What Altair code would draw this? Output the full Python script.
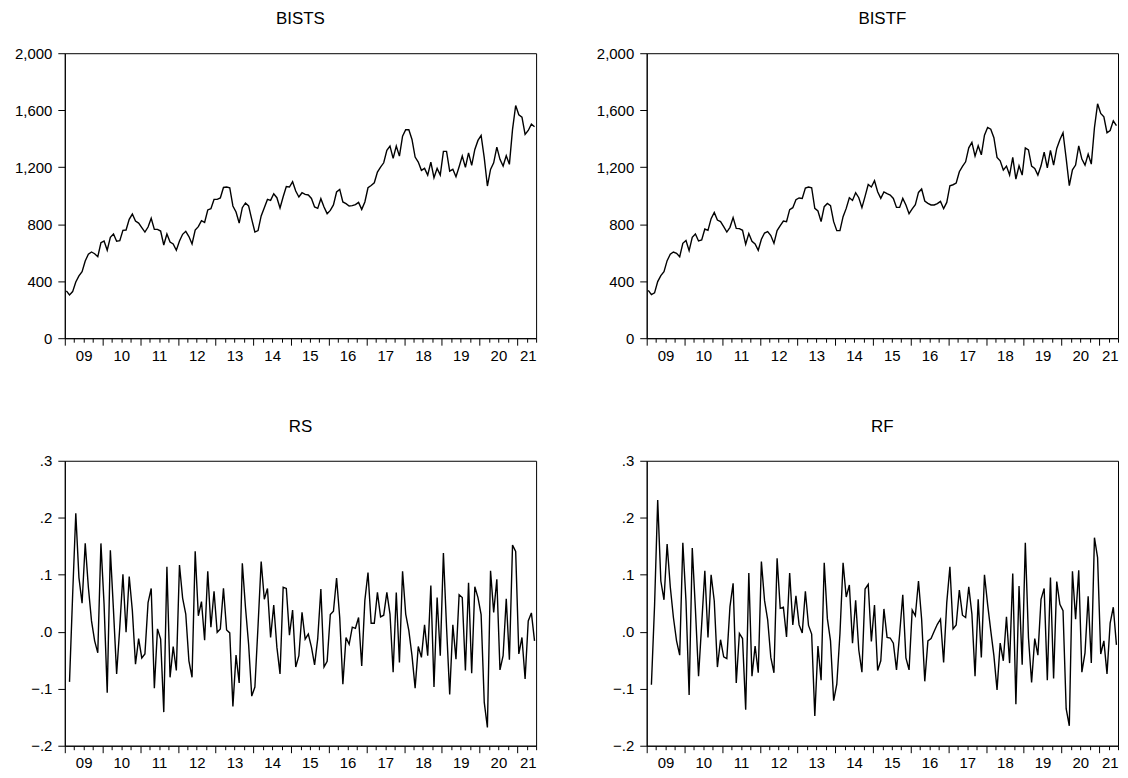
import altair as alt
import pandas as pd
import numpy as np

# ---------------- data (monthly, Jan 2009 - Jun 2021) ----------------
START_YEAR = 2009
END_YEAR = 2021.5

bists = [
    332, 304, 327, 395, 437, 467, 542, 589, 605, 593, 572, 670,
    682, 617, 708, 731, 680, 685, 757, 759, 834, 871, 822, 808,
    776, 745, 780, 841, 764, 764, 752, 654, 731, 675, 661, 617,
    682, 729, 750, 713, 661, 759, 783, 825, 813, 900, 909, 974,
    974, 984, 1058, 1061, 1056, 928, 886, 808, 916, 949, 928, 834,
    745, 755, 858, 916, 974, 967, 1014, 986, 914, 993, 1065, 1061,
    1098, 1033, 991, 1021, 1009, 1005, 981, 921, 911, 979, 921, 874,
    897, 935, 1026, 1044, 956, 944, 928, 930, 937, 953, 904, 956,
    1056, 1072, 1091, 1166, 1201, 1231, 1318, 1348, 1262, 1348, 1278, 1418,
    1463, 1463, 1395, 1271, 1236, 1178, 1192, 1145, 1236, 1126, 1192, 1145,
    1311, 1311, 1173, 1185, 1133, 1203, 1278, 1199, 1301, 1213, 1325, 1388,
    1423, 1266, 1068, 1185, 1231, 1341, 1255, 1208, 1280, 1220, 1465, 1633,
    1568, 1551, 1430, 1458, 1502, 1484,
]

bistf = [
    336, 306, 318, 397, 439, 467, 544, 589, 605, 596, 572, 666,
    685, 614, 708, 731, 682, 689, 766, 757, 839, 883, 829, 818,
    783, 745, 778, 846, 771, 769, 757, 659, 734, 680, 661, 617,
    694, 738, 748, 720, 666, 755, 790, 822, 818, 902, 916, 972,
    984, 981, 1054, 1061, 1056, 911, 893, 818, 923, 946, 930, 818,
    755, 755, 853, 911, 986, 967, 1021, 986, 916, 995, 1079, 1061,
    1105, 1028, 981, 1026, 1014, 1005, 981, 918, 918, 981, 935, 874,
    907, 937, 1023, 1047, 963, 946, 935, 935, 944, 960, 909, 953,
    1070, 1077, 1089, 1168, 1206, 1238, 1336, 1374, 1278, 1350, 1287, 1425,
    1479, 1467, 1407, 1269, 1245, 1180, 1208, 1145, 1269, 1117, 1210, 1145,
    1336, 1322, 1208, 1192, 1145, 1210, 1306, 1196, 1318, 1215, 1332, 1393,
    1442, 1262, 1070, 1182, 1215, 1350, 1257, 1215, 1292, 1222, 1477, 1645,
    1577, 1554, 1442, 1458, 1526, 1491,
]

# returns start in Feb 2009
rs = [
    -0.088, 0.065, 0.208, 0.095, 0.050, 0.155, 0.078, 0.019, -0.016, -0.037, 0.155, 0.048,
    -0.107, 0.143, 0.037, -0.074, 0.008, 0.101, -0.001, 0.097, 0.037, -0.057, -0.012, -0.046,
    -0.039, 0.051, 0.076, -0.099, 0.005, -0.013, -0.141, 0.114, -0.080, -0.026, -0.068, 0.117,
    0.059, 0.031, -0.051, -0.080, 0.141, 0.028, 0.053, -0.015, 0.106, 0.008, 0.071, -0.001,
    0.005, 0.076, 0.003, -0.002, -0.131, -0.041, -0.090, 0.120, 0.043, -0.022, -0.113, -0.097,
    0.010, 0.123, 0.057, 0.076, -0.010, 0.047, -0.027, -0.074, 0.078, 0.076, -0.006, 0.038,
    -0.062, -0.042, 0.034, -0.013, -0.004, -0.027, -0.058, -0.012, 0.075, -0.062, -0.052, 0.030,
    0.036, 0.094, 0.025, -0.092, -0.010, -0.022, 0.008, 0.006, 0.025, -0.060, 0.055, 0.104,
    0.015, 0.015, 0.069, 0.026, 0.029, 0.069, 0.031, -0.071, 0.069, -0.054, 0.106, 0.031,
    0.002, -0.042, -0.099, -0.026, -0.045, 0.012, -0.042, 0.081, -0.097, 0.060, -0.042, 0.138,
    0.008, -0.110, 0.012, -0.048, 0.065, 0.060, -0.068, 0.086, -0.073, 0.079, 0.060, 0.030,
    -0.124, -0.168, 0.107, 0.034, 0.092, -0.067, -0.042, 0.058, -0.049, 0.152, 0.141, -0.039,
    -0.010, -0.083, 0.019, 0.033, -0.016,
]

rf = [
    -0.093, 0.046, 0.231, 0.089, 0.056, 0.154, 0.079, 0.025, -0.016, -0.041, 0.156, 0.054,
    -0.111, 0.147, 0.040, -0.078, 0.013, 0.107, -0.010, 0.100, 0.054, -0.062, -0.014, -0.044,
    -0.047, 0.044, 0.085, -0.090, -0.003, -0.012, -0.137, 0.103, -0.078, -0.025, -0.072, 0.123,
    0.055, 0.021, -0.045, -0.072, 0.129, 0.041, 0.043, -0.009, 0.103, 0.012, 0.063, 0.012,
    -0.002, 0.071, 0.011, -0.004, -0.148, -0.025, -0.085, 0.121, 0.023, -0.016, -0.121, -0.092,
    -0.004, 0.121, 0.061, 0.082, -0.020, 0.055, -0.032, -0.071, 0.075, 0.083, -0.017, 0.047,
    -0.068, -0.051, 0.040, -0.010, -0.011, -0.020, -0.067, -0.004, 0.065, -0.046, -0.067, 0.038,
    0.028, 0.089, 0.022, -0.087, -0.016, -0.012, 0.001, 0.013, 0.022, -0.054, 0.051, 0.114,
    0.005, 0.012, 0.073, 0.029, 0.025, 0.079, 0.031, -0.078, 0.057, -0.045, 0.100, 0.048,
    0.002, -0.042, -0.102, -0.020, -0.051, 0.026, -0.055, 0.102, -0.127, 0.080, -0.058, 0.156,
    -0.010, -0.089, -0.012, -0.041, 0.057, 0.076, -0.085, 0.095, -0.082, 0.088, 0.048, 0.037,
    -0.135, -0.165, 0.106, 0.022, 0.108, -0.071, -0.037, 0.062, -0.055, 0.165, 0.130, -0.039,
    -0.016, -0.074, 0.015, 0.043, -0.023,
]

level_ticks = [0, 400, 800, 1200, 1600, 2000]
return_ticks = [-0.2, -0.1, 0.0, 0.1, 0.2, 0.3]
quarter_ticks = list(np.arange(START_YEAR, END_YEAR + 0.001, 0.25))

# ---------------- styling ----------------
FONT = "Liberation Sans"
W, H = 473, 286


def frame(values, first_month, title, ydomain, yticks, ylabel_expr=None, yformat=None):
    df = pd.DataFrame({
        "t": [START_YEAR + (first_month + k + 0.5) / 12 for k in range(len(values))],
        "v": values,
    })
    xaxis = alt.Axis(
        values=quarter_ticks,
        tickSize={"condition": {"test": "datum.value % 1 === 0", "value": 7}, "value": 4},
        labelExpr="datum.value % 1 === 0.5 ? substring(toString(floor(datum.value)), 2, 4) : ''",
        labelFlush=True,
        labelOverlap=False,
        labelPadding=6,
        labelFontSize=15,
        labelFont=FONT,
        labelColor="black",
        title=None,
        grid=False,
        minExtent=28,
        maxExtent=28,
    )
    yaxis_kwargs = dict(
        values=yticks,
        tickSize=7,
        labelPadding=6,
        labelFlush=False,
        labelOverlap=False,
        labelFontSize=15,
        labelFont=FONT,
        labelColor="black",
        title=None,
        grid=False,
        minExtent=51,
        maxExtent=51,
    )
    if ylabel_expr:
        yaxis_kwargs["labelExpr"] = ylabel_expr
    if yformat:
        yaxis_kwargs["format"] = yformat
    return (
        alt.Chart(df)
        .mark_line(color="black", strokeWidth=1.4)
        .encode(
            x=alt.X("t:Q", scale=alt.Scale(domain=[START_YEAR, END_YEAR], nice=False, zero=False), axis=xaxis),
            y=alt.Y("v:Q", scale=alt.Scale(domain=ydomain, nice=False, zero=False), axis=alt.Axis(**yaxis_kwargs)),
        )
        .properties(
            width=W,
            height=H,
            title=alt.TitleParams(
                text=title, font=FONT, fontSize=17, fontWeight="normal",
                anchor="middle", baseline="alphabetic", offset=5, color="black",
            ),
        )
    )


ret_expr = "replace(format(datum.value, '.1f'), '0.', '.')"

p1 = frame(bists, 0, "BISTS", [0, 2000], level_ticks, yformat=",.0f")
p2 = frame(bistf, 0, "BISTF", [0, 2000], level_ticks, yformat=",.0f")
p3 = frame(rs, 1, "RS", [-0.2, 0.3], return_ticks, ylabel_expr=ret_expr)
p4 = frame(rf, 1, "RF", [-0.2, 0.3], return_ticks, ylabel_expr=ret_expr)

chart = (
    alt.vconcat(
        alt.hconcat(p1, p2, spacing=57),
        alt.hconcat(p3, p4, spacing=57),
        spacing=50,
    )
    .properties(padding={"left": 5, "top": 0, "right": 0, "bottom": 0})
    .configure_view(stroke="black", strokeWidth=1)
    .configure_axis(
        domainColor="black", tickColor="black", labelColor="black",
        labelFont=FONT, labelFontSize=15, domainWidth=1, tickWidth=1,
    )
)

chart.save("out.html", embed_options={"renderer": "svg", "actions": False})
